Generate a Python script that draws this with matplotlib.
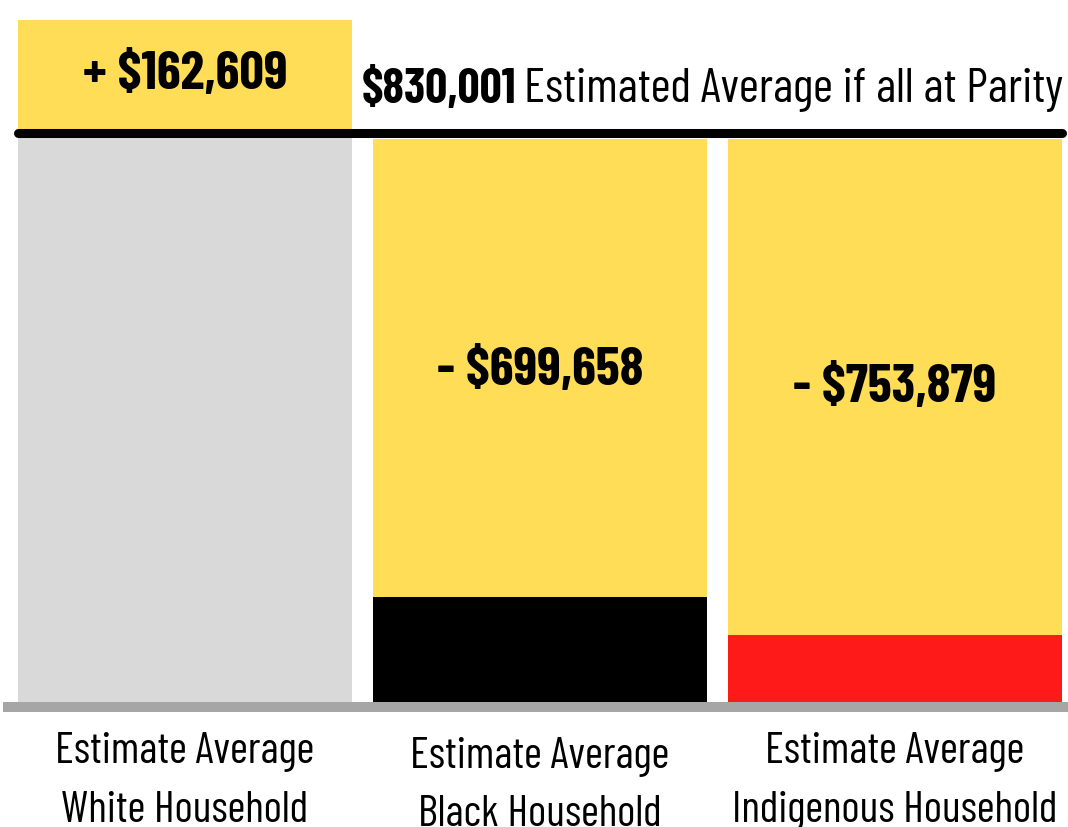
import matplotlib
matplotlib.use("Agg")
import matplotlib.pyplot as plt

# Data
groups = ["Estimate Average\nWhite Household",
          "Estimate Average\nBlack Household",
          "Estimate Average\nIndigenous Household"]
household_avg = [830001, 152900, 97600]      # drawn heights of the base bars
parity = 830001
gap_top = [992610, 820000, 820000]           # top of the yellow gap segment
gap_labels = ["+ $162,609", "- $699,658", "- $753,879"]
base_colors = ["#d9d9d9", "#000000", "#ff1a1a"]
gap_color = "#ffdd57"

plt.rcParams['font.family'] = ['Barlow Condensed', 'DejaVu Sans']

fig = plt.figure(figsize=(10.68, 8.28), dpi=100)
ax = fig.add_axes([0, 0, 1, 1])

x = [0, 1, 2]
w = 0.94
gap_h = [t - b for t, b in zip(gap_top, household_avg)]
ax.bar(x, household_avg, width=w, color=base_colors, zorder=2)
ax.bar(x, gap_h, bottom=household_avg, width=w, color=gap_color, zorder=2)

# parity line
ax.hlines(parity - 1500, -w / 2, 2 + w / 2, color="black", lw=6.5,
          capstyle="round", zorder=4)
# baseline
ax.axhline(-7300, xmin=8 / 1068, xmax=1, color="#a6a6a6", lw=7.2, zorder=1)

# gap labels
label_y = [parity + (gap_top[0] - parity) / 2 + 3000, 483000, 458000]
for i in range(3):
    ax.text(x[i], label_y[i], gap_labels[i], ha="center", va="center",
            fontsize=39, fontweight="bold", zorder=5)

ax.text(0.4986, 893000, "$830,001", ha="left", va="center", fontsize=35,
        fontweight="bold")
ax.text(0.955, 893000, "Estimated Average if all at Parity", ha="left",
        va="center", fontsize=35)

# category labels
cat_y = [-114500, -121000, -114500]
for i in range(3):
    ax.text(x[i], cat_y[i], groups[i], ha="center", va="center", fontsize=31.5,
            linespacing=1.6)

ax.set_xlim(-185 / 355, (1068 - 185) / 355)
ax.set_ylim(-125 / 570 * parity, 703 / 570 * parity)
ax.axis("off")

fig.savefig("out.png", dpi=100)
